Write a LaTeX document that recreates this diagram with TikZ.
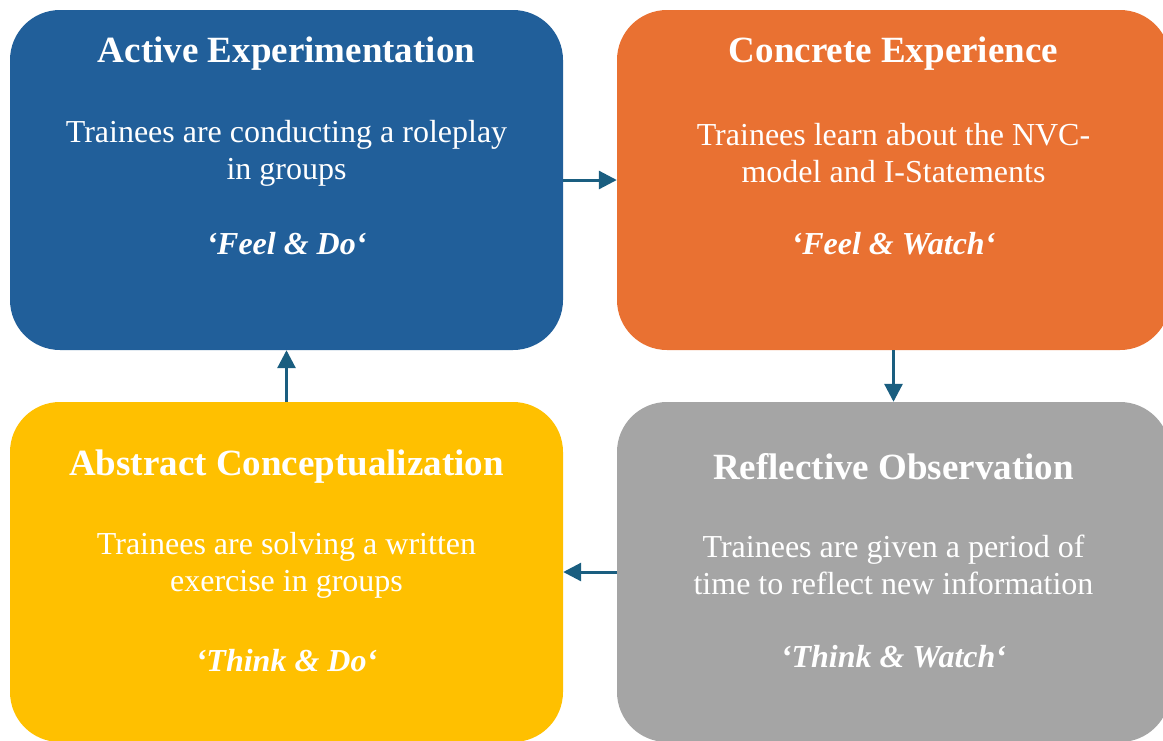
\documentclass[tikz,border=0pt]{standalone}
\usepackage{fontspec}
\setmainfont{Liberation Serif}
\usetikzlibrary{arrows.meta}

\definecolor{aeblue}{HTML}{215F9A}
\definecolor{ceorange}{HTML}{E97132}
\definecolor{acyellow}{HTML}{FFC000}
\definecolor{rogray}{HTML}{A5A5A5}
\definecolor{cyclearrow}{HTML}{1A5E80}

\begin{document}
\begin{tikzpicture}[x=1pt, y=-1pt,
             every node/.style = {text=white, inner sep=0pt},
             phase/.style = {rounded corners=50pt, minimum width=553pt, minimum height=340pt},
             title/.style = {font=\fontsize{37}{42}\selectfont\bfseries},
             body/.style = {align=center, font=\fontsize{32}{37}\selectfont},
             motto/.style = {font=\fontsize{32}{36}\selectfont\bfseries\itshape},
             cycle/.style = {draw=cyclearrow, line width=3pt, -{Triangle[length=18pt, width=18pt]}}]
\useasboundingbox (0,0) rectangle (1163,740);
\begin{scope}
\clip (0,0) rectangle (1163,740);

% the four phases
\node (ae) [phase, fill=aeblue]   at (286.5,180) {};
\node (ce) [phase, fill=ceorange] at (893.5,180) {};
\node (ac) [phase, fill=acyellow] at (286.5,572) {};
\node (ro) [phase, fill=rogray]   at (893.5,572) {};

\node (aetitle) [title] at (286.5,54) {Active Experimentation};
\node (aebody)  [body]  at (286.5,153) {Trainees are conducting a roleplay\\in groups};
\node (aemotto) [motto] at (286.5,244) {‘Feel \& Do‘};

\node (cetitle) [title] at (893.5,54) {Concrete Experience};
\node (cebody)  [body]  at (893.5,153) {Trainees learn about the NVC-\\model and I-Statements};
\node (cemotto) [motto] at (893.5,244) {‘Feel \& Watch‘};

\node (actitle) [title] at (286.5,467) {Abstract Conceptualization};
\node (acbody)  [body]  at (286.5,565) {Trainees are solving a written\\exercise in groups};
\node (acmotto) [motto] at (286.5,661) {‘Think \& Do‘};

\node (rotitle) [title] at (893.5,467) {Reflective Observation};
\node (robody)  [body]  at (893.5,565) {Trainees are given a period of\\time to reflect new information};
\node (romotto) [motto] at (893.5,657) {‘Think \& Watch‘};

% the cycle
\draw [cycle] (ae.east) -- (ce.west);
\draw [cycle] (ce.south) -- (ro.north);
\draw [cycle] (ro.west) -- (ac.east);
\draw [cycle] (ac.north) -- (ae.south);
\end{scope}
\end{tikzpicture}
\end{document}
